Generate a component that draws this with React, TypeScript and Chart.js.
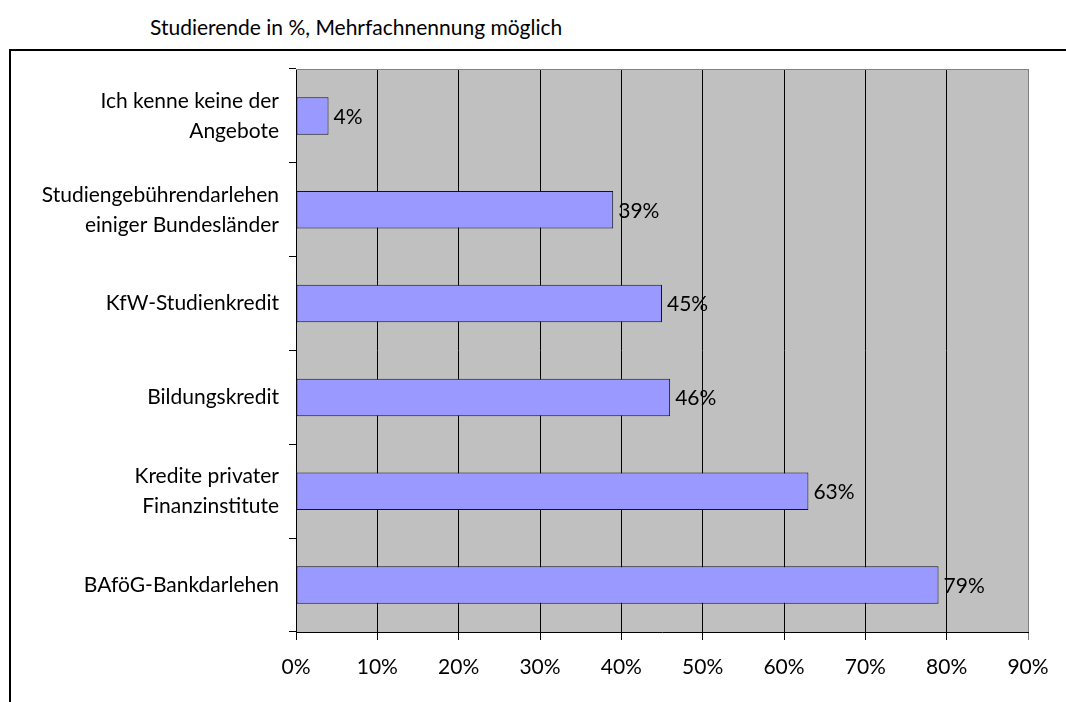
import React, { useEffect, useRef } from "react";
import { Chart, registerables } from "chart.js";

Chart.register(...registerables);

const categories: string[][] = [
  ["Ich kenne keine der", "Angebote"],
  ["Studiengebührendarlehen", "einiger Bundesländer"],
  ["KfW-Studienkredit"],
  ["Bildungskredit"],
  ["Kredite privater", "Finanzinstitute"],
  ["BAföG-Bankdarlehen"],
];
const values: number[] = [4, 39, 45, 46, 63, 79];
const xTicks: number[] = [0, 10, 20, 30, 40, 50, 60, 70, 80, 90];
const subtitle = "Studierende in %, Mehrfachnennung möglich";

const FONT = "Lato, 'Open Sans', sans-serif";
const FS = 21;

const plotBgPlugin = {
  id: "plotBg",
  beforeDraw(chart: any) {
    const { ctx, chartArea } = chart;
    ctx.save();
    ctx.fillStyle = "#c0c0c0";
    ctx.fillRect(chartArea.left, chartArea.top, chartArea.right - chartArea.left, chartArea.bottom - chartArea.top);
    ctx.restore();
  },
  afterDraw(chart: any) {
    const { ctx, chartArea } = chart;
    ctx.save();
    ctx.strokeStyle = "#808080";
    ctx.lineWidth = 1;
    ctx.beginPath();
    ctx.moveTo(chartArea.left, chartArea.top + 0.5);
    ctx.lineTo(chartArea.right + 0.5, chartArea.top + 0.5);
    ctx.lineTo(chartArea.right + 0.5, chartArea.bottom);
    ctx.stroke();
    ctx.restore();
  },
};

const dataLabelPlugin = {
  id: "dataLabels",
  afterDatasetsDraw(chart: any) {
    const { ctx } = chart;
    const meta = chart.getDatasetMeta(0);
    ctx.save();
    ctx.font = `${FS}px ${FONT}`;
    ctx.fillStyle = "#000";
    ctx.textAlign = "left";
    ctx.textBaseline = "middle";
    meta.data.forEach((bar: any, i: number) => {
      ctx.fillText(`${values[i]}%`, bar.x + 5, bar.y + 1);
    });
    ctx.restore();
  },
};

export default function App() {
  const ref = useRef<HTMLCanvasElement | null>(null);
  useEffect(() => {
    if (!ref.current) return;
    const chart = new Chart(ref.current, {
      type: "bar",
      data: {
        labels: categories,
        datasets: [
          {
            data: values,
            backgroundColor: "#9999ff",
            borderColor: "#111122",
            borderWidth: 1,
            borderSkipped: false,
            barPercentage: 0.4,
            categoryPercentage: 1,
          },
        ],
      },
      options: {
        indexAxis: "y",
        animation: false,
        responsive: false,
        devicePixelRatio: 1,
        layout: { padding: { left: 0, right: 38, top: 69, bottom: 0 } },
        plugins: {
          legend: { display: false },
          title: { display: false },
          tooltip: { enabled: false },
        },
        scales: {
          x: {
            min: 0,
            max: 90,
            afterBuildTicks(scale: any) {
              scale.ticks = xTicks.map((v) => ({ value: v }));
            },
            afterFit(scale: any) {
              scale.height = 70;
            },
            ticks: {
              color: "#000",
              font: { family: FONT, size: FS },
              padding: 15,
              callback: (v: any) => `${v}%`,
              maxRotation: 0,
              autoSkip: false,
            },
            grid: {
              color: (c: any) => (c.tick && c.tick.value === 90 ? "#808080" : "#000"),
              lineWidth: 1,
              tickLength: 8,
              drawTicks: true,
            },
            border: { color: "#000", width: 1 },
          },
          y: {
            afterFit(scale: any) {
              scale.width = 296;
            },
            ticks: {
              color: "#000",
              font: { family: FONT, size: FS, lineHeight: "30px" },
              padding: 10,
            },
            grid: {
              drawOnChartArea: false,
              drawTicks: true,
              tickLength: 7,
              color: "#000",
              offset: true,
            },
            border: { color: "#000", width: 1 },
          },
        },
      },
      plugins: [plotBgPlugin, dataLabelPlugin],
    });
    return () => chart.destroy();
  }, []);

  return (
    <div style={{ position: "absolute", left: 0, top: 0, width: 1066, height: 702, overflow: "hidden", background: "#fff" }}>
      <div
        style={{
          position: "absolute",
          left: 150,
          top: 15,
          fontFamily: FONT,
          fontSize: FS,
          color: "#000",
          whiteSpace: "nowrap",
          lineHeight: "24px",
        }}
      >
        {subtitle}
      </div>
      <div
        style={{
          position: "absolute",
          left: 9,
          top: 49,
          width: 1100,
          height: 700,
          border: "2px solid #000",
          boxSizing: "border-box",
        }}
      />
      <canvas ref={ref} width={1066} height={702} style={{ position: "absolute", left: 0, top: 0, width: 1066, height: 702 }} />
    </div>
  );
}
